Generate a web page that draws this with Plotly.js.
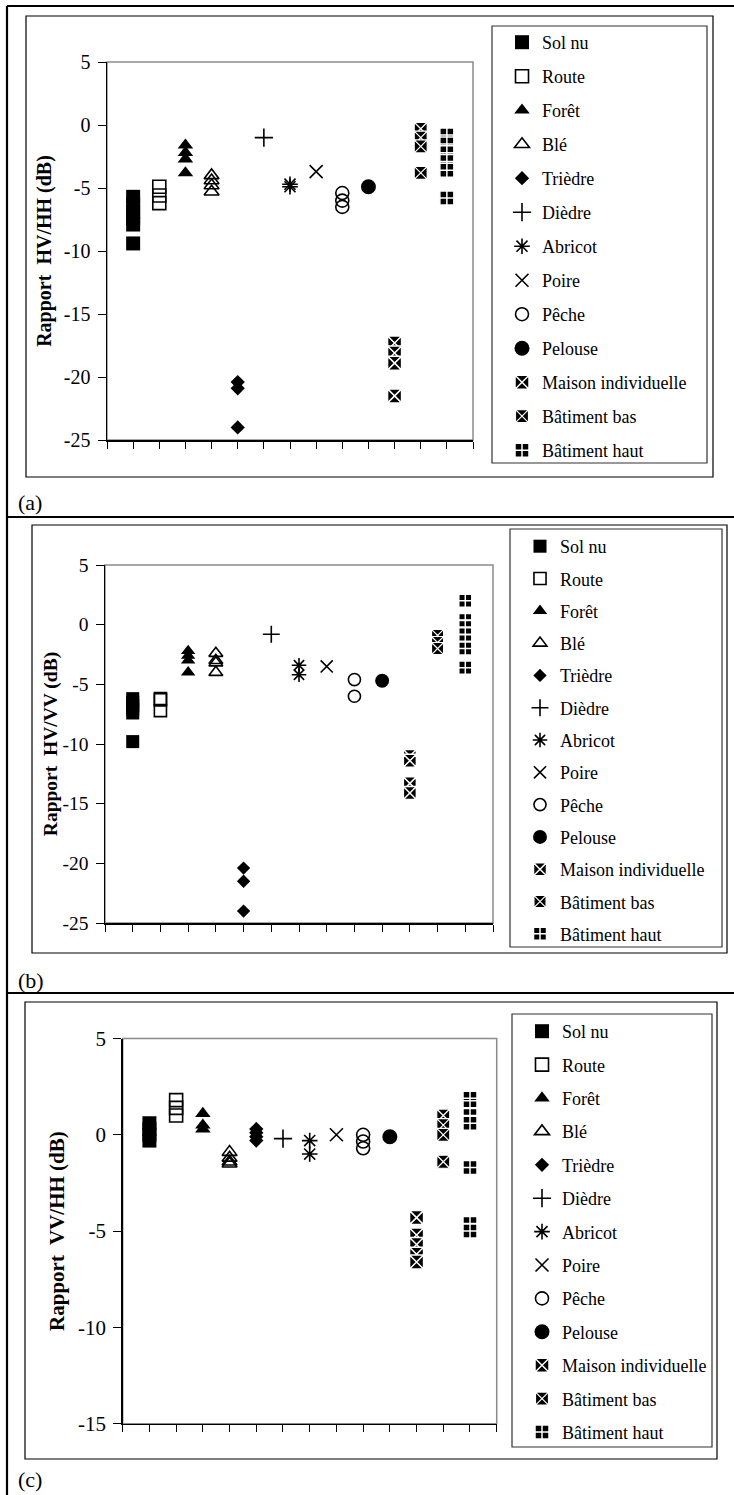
<!DOCTYPE html>
<html>
<head>
<meta charset="utf-8">
<script src="https://cdn.plot.ly/plotly-3.0.1.min.js"></script>
<style>html,body{margin:0;padding:0;background:#fff;}</style>
</head>
<body>
<div id="chart" style="width:734px;height:1495px;"></div>
<script>
// ---------------- DATA ----------------
const categories = ['Sol nu', 'Route', 'Forêt', 'Blé', 'Trièdre', 'Dièdre', 'Abricot',
  'Poire', 'Pêche', 'Pelouse', 'Maison individuelle', 'Bâtiment bas', 'Bâtiment haut'];
const categoryPositions = [1, 2, 3, 4, 5, 6, 7, 8, 9, 10, 11, 12, 13];

// (a) Rapport HV/HH (dB)
const ratioHVHH = [
  [-5.7, -6.3, -6.9, -7.4, -7.9, -9.4],
  [-4.9, -5.6, -6.2],
  [-1.6, -2.2, -2.7, -3.8],
  [-4.0, -4.4, -4.8, -5.3],
  [-20.4, -20.9, -24.0],
  [-1.0],
  [-4.7, -4.9],
  [-3.7],
  [-5.4, -6.0, -6.5],
  [-4.9],
  [-17.3, -18.1, -18.9, -21.5],
  [-0.3, -1.0, -1.7, -3.8],
  [-0.8, -1.5, -2.2, -2.9, -3.6, -5.8]
];
// (b) Rapport HV/VV (dB)
const ratioHVVV = [
  [-6.2, -6.5, -6.8, -7.1, -7.4, -9.8],
  [-6.2, -6.3, -7.2],
  [-2.2, -2.6, -3.0, -4.0],
  [-2.4, -3.0, -3.2, -4.0],
  [-20.4, -21.5, -24.0],
  [-0.8],
  [-3.4, -4.2],
  [-3.5],
  [-4.6, -6.0],
  [-4.7],
  [-11.0, -11.4, -13.3, -14.1],
  [-0.9, -1.5, -2.0],
  [2.0, 0.4, -0.2, -0.8, -1.4, -2.0, -3.6]
];
// (c) Rapport VV/HH (dB)
const ratioVVHH = [
  [0.6, 0.3, 0.0, -0.3],
  [1.8, 1.4, 1.0],
  [1.1, 0.5, 0.3],
  [-0.9, -1.2, -1.4, -1.5],
  [0.3, 0.1, -0.1, -0.3],
  [-0.2],
  [-0.3, -1.0],
  [0.0],
  [0.0, -0.35, -0.7],
  [-0.1],
  [-4.3, -5.2, -5.7, -6.2, -6.6],
  [1.0, 0.5, 0.0, -1.4],
  [1.9, 1.4, 1.0, 0.6, -1.7, -4.6, -5.0]
];

const yTitles = ['Rapport\u00a0 HV/HH (dB)', 'Rapport\u00a0 HV/VV (dB)', 'Rapport\u00a0 VV/HH (dB)'];
const panelLabels = ['(a)', '(b)', '(c)'];
const yTicksAB = [5, 0, -5, -10, -15, -20, -25];
const yTicksC = [5, 0, -5, -10, -15];
const xTickPositions = [0, 1, 2, 3, 4, 5, 6, 7, 8, 9, 10, 11, 12, 13, 14];

// ---------------- STYLE / GEOMETRY ----------------
const W = 734, H = 1495;
const px = v => v / W;
const py = v => 1 - v / H;
const FONT = '"Liberation Serif", "Times New Roman", "DejaVu Serif", serif';

const markerStyles = [
  {symbol: 'square', size: 14, lc: '#000', lw: 0},
  {symbol: 'square-open', size: 13, lc: '#000', lw: 1.6},
  {symbol: 'triangle-up', size: 13.5, lc: '#000', lw: 0},
  {symbol: 'triangle-up-open', size: 13, lc: '#000', lw: 1.6},
  {symbol: 'diamond', size: 11, lc: '#000', lw: 0},
  {symbol: 'cross-thin-open', size: 13, lc: '#000', lw: 1.6},
  {symbol: 'asterisk-open', size: 13, lc: '#000', lw: 1.6},
  {symbol: 'x-thin-open', size: 13, lc: '#000', lw: 1.6},
  {symbol: 'circle-open', size: 13, lc: '#000', lw: 1.6},
  {symbol: 'circle', size: 15, lc: '#000', lw: 0},
  {symbol: 'square-x', size: 14, lc: '#fff', lw: 1.5},
  {symbol: 'square-x', size: 13, lc: '#fff', lw: 1.2},
  {symbol: 'square-cross', size: 14, lc: '#fff', lw: 1.5}
];

const panels = [
  {values: ratioHVHH, ticks: yTicksAB, range: [-25, 5],
   plot: [107, 473, 62, 440], chart: [26, 713, 16, 477], legendBox: [492, 707, 26, 463],
   legendPos: [502, 24], legendFont: 18, gap: 7.6, tickSize: 20, titleSize: 20, standoff: 7,
   label: [16, 503], scale: 1},
  {values: ratioHVVV, ticks: yTicksAB, range: [-25, 5],
   plot: [105, 493, 565, 923], chart: [32, 727, 525, 953], legendBox: [510, 722, 529, 947],
   legendPos: [520, 528], legendFont: 18, gap: 5.9, tickSize: 19.5, titleSize: 19.5, standoff: 0,
   label: [16, 980], scale: 0.93},
  {values: ratioVVHH, ticks: yTicksC, range: [-15, 5],
   plot: [122.7, 496.7, 1038.5, 1423.7], chart: [25, 717, 1002, 1459], legendBox: [512, 712, 1014, 1447],
   legendPos: [522, 1013], legendFont: 18, gap: 7.0, tickSize: 21, titleSize: 21, standoff: 7,
   label: [16, 1479], scale: 1}
];

const traces = [];
const layout = {
  width: W, height: H,
  margin: {l: 0, r: 0, t: 0, b: 0, pad: 0, autoexpand: false},
  paper_bgcolor: '#fff', plot_bgcolor: 'rgba(0,0,0,0)',
  font: {family: FONT, color: '#000'},
  showlegend: true,
  shapes: [], annotations: []
};

panels.forEach((p, k) => {
  const sfx = k === 0 ? '' : String(k + 1);
  categories.forEach((name, i) => {
    const vals = p.values[i];
    const st = markerStyles[i];
    traces.push({
      type: 'scatter', mode: 'markers', name: name,
      x: vals.map(() => categoryPositions[i]), y: vals,
      xaxis: 'x' + sfx, yaxis: 'y' + sfx,
      legend: 'legend' + sfx, legendgroup: 'p' + k + 'c' + i,
      cliponaxis: false, hoverinfo: 'skip',
      marker: {symbol: st.symbol, size: st.size * p.scale, color: '#000',
               line: {color: st.lc, width: st.lw}}
    });
  });

  layout['xaxis' + sfx] = {
    domain: [px(p.plot[0]), px(p.plot[1])], range: [0, 14], anchor: 'y' + sfx,
    tickmode: 'array', tickvals: xTickPositions, showticklabels: false,
    ticks: 'outside', ticklen: 7, tickwidth: 1, tickcolor: '#000',
    showgrid: false, zeroline: false, showline: true, linecolor: '#000', linewidth: 1.5,
    fixedrange: true
  };
  layout['yaxis' + sfx] = {
    domain: [py(p.plot[3]), py(p.plot[2])], range: p.range, anchor: 'x' + sfx,
    tickmode: 'array', tickvals: p.ticks, ticktext: p.ticks.map(v => String(v)),
    ticks: 'outside', ticklen: 8, tickwidth: 1, tickcolor: '#000', ticklabelstandoff: 3,
    tickfont: {family: FONT, size: p.tickSize, color: '#000'},
    showgrid: false, zeroline: false, showline: true, linecolor: '#000', linewidth: 1.5,
    automargin: true, fixedrange: true,
    title: {text: yTitles[k], standoff: p.standoff,
            font: {family: FONT, size: p.titleSize, color: '#000', weight: 'bold'}}
  };
  layout['legend' + sfx] = {
    x: px(p.legendPos[0]), y: py(p.legendPos[1]), xanchor: 'left', yanchor: 'top',
    bgcolor: 'rgba(0,0,0,0)', borderwidth: 0, tracegroupgap: p.gap,
    font: {family: FONT, size: p.legendFont, color: '#000'},
    itemwidth: 30, itemclick: false, itemdoubleclick: false
  };

  // plot-area frame (grey, Excel style)
  layout.shapes.push({type: 'rect', xref: 'x' + sfx + ' domain', yref: 'y' + sfx + ' domain',
    x0: 0, x1: 1, y0: 0, y1: 1, line: {color: '#8a8a8a', width: 1.5}, layer: 'below'});
  // chart-area frame
  layout.shapes.push({type: 'rect', xref: 'paper', yref: 'paper',
    x0: px(p.chart[0]), x1: px(p.chart[1]), y0: py(p.chart[3]), y1: py(p.chart[2]),
    line: {color: '#000', width: 1.2}});
  // legend frame
  layout.shapes.push({type: 'rect', xref: 'paper', yref: 'paper',
    x0: px(p.legendBox[0]), x1: px(p.legendBox[1]), y0: py(p.legendBox[3]), y1: py(p.legendBox[2]),
    line: {color: '#333', width: 1.2}});
  // panel label
  layout.annotations.push({xref: 'paper', yref: 'paper', x: px(p.label[0]), y: py(p.label[1]),
    xanchor: 'left', yanchor: 'middle', showarrow: false, text: panelLabels[k],
    font: {family: FONT, size: 22, color: '#000'}});
});

// outer table frame
const frame = [
  {x0: 7, x1: 7, y0: 6, y1: 1495},
  {x0: 7, x1: 734, y0: 6, y1: 6},
  {x0: 7, x1: 734, y0: 517, y1: 517},
  {x0: 7, x1: 734, y0: 993, y1: 993}
];
frame.forEach(f => layout.shapes.push({type: 'line', xref: 'paper', yref: 'paper',
  x0: px(f.x0), x1: px(f.x1), y0: py(f.y0), y1: py(f.y1), line: {color: '#000', width: 2.2}}));

Plotly.newPlot('chart', traces, layout, {staticPlot: true, displayModeBar: false});
</script>
</body>
</html>
